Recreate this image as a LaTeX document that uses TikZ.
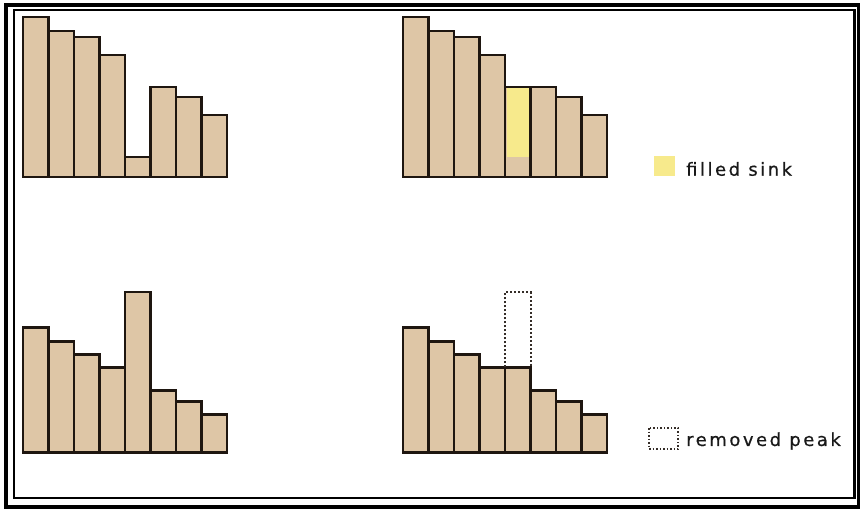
\documentclass[tikz,border=0pt]{standalone}
\usepackage{fontspec}
\setmainfont{DejaVu Sans}[LetterSpace=14,FakeBold=0.6]
\usepackage{xcolor}
\usepackage{tikz}
\usetikzlibrary{positioning}
\definecolor{tan}{RGB}{222,198,166}
\definecolor{sink}{RGB}{247,234,140}
\definecolor{edge}{RGB}{30,22,16}

\begin{document}
\begin{tikzpicture}[x=1pt,y=-1pt,
  bar/.style={draw=edge,fill=tan,line width=2.4pt},
  gone/.style={draw=edge!90,dotted,line width=2pt},
  lab/.style={font=\fontsize{18}{21}\selectfont,text=black!90,anchor=west,inner sep=0pt}]
\useasboundingbox (0,0) rectangle (860,513);
% frame
\draw[line width=4pt] (5.5,5.3) rectangle (858.5,507);
\draw[line width=2.2pt] (13.8,10) rectangle (854.5,498);
% top left: sink
\foreach \h [count=\i from 0] in {160,146,140,122,20,90,80,62}
  \draw[bar] (23+25.5*\i,177) rectangle ++(25.5,-\h);
% top right: sink filled
\foreach \h [count=\i from 0] in {160,146,140,122,90,90,80,62}
  \draw[bar] (403+25.5*\i,177) rectangle ++(25.5,-\h);
\fill[sink] (506.5,88.5) rectangle (529,157);
\draw[edge,line width=2.4pt] (505,177) rectangle (530.5,87);
% bottom left: peak
\foreach \h [count=\i from 0] in {125,111,98,85,160,62,51,38}
  \draw[bar] (23+25.5*\i,452.3) rectangle ++(25.5,-\h);
% bottom right: peak removed
\foreach \h [count=\i from 0] in {125,111,98,85,85,62,51,38}
  \draw[bar] (403+25.5*\i,452.3) rectangle ++(25.5,-\h);
\draw[gone] (505,367.3) -- (505,292.3) -- (530.5,292.3) -- (530.5,367.3);
% legend
\fill[sink] (654,156) rectangle (675,176);
\node[lab] (fs) at (686,169) {filled sink};
\draw[gone,line width=1.5pt] (649,428) rectangle (678,449);
\node[lab] (rp) at (686,441) {removed peak};
\end{tikzpicture}
\end{document}
